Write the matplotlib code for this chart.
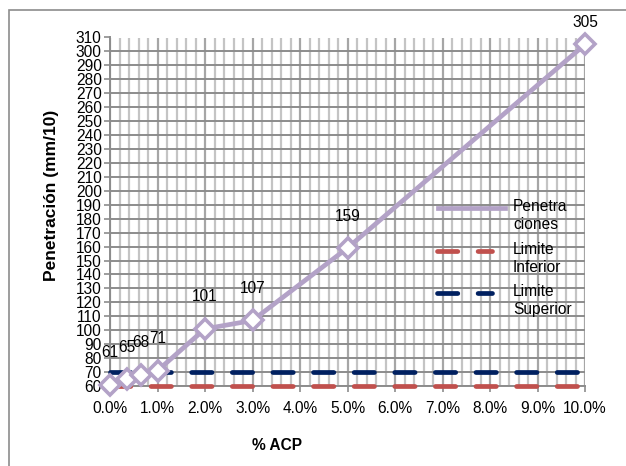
import numpy as np
import matplotlib.pyplot as plt
from matplotlib.lines import Line2D
from matplotlib.patches import Rectangle
from matplotlib.ticker import MultipleLocator, FuncFormatter

plt.rcParams['font.family'] = ['Liberation Sans', 'DejaVu Sans']

# % ACP added vs. measured penetration
acp = [0.0, 0.35, 0.65, 1.0, 2.0, 3.0, 5.0, 10.0]
penetracion = [61, 65, 68, 71, 101, 107, 159, 305]
limite_inferior = 60
limite_superior = 70

W, H = 626, 466
LAVENDER = '#B3A2C7'
RED = '#C0504D'
NAVY = '#002060'
DASH = (4.3, 4.3)
FS = 11.2

fig = plt.figure(figsize=(W / 100, H / 100), dpi=100)
ax = fig.add_axes([110 / W, 1 - 386 / H, 475 / W, 348.5 / H])


def fx(x):
    return x / W


def fy(y):
    return 1 - y / H


# chart area border
fig.add_artist(Rectangle((fx(9), fy(480)), 640 / W, 470 / H, transform=fig.transFigure,
                         fill=False, edgecolor='#8c8c8c', lw=1.2))

ax.set_xlim(0, 10)
ax.set_ylim(60, 310)
ax.xaxis.set_major_locator(MultipleLocator(1))
ax.xaxis.set_minor_locator(MultipleLocator(0.2))
ax.yaxis.set_major_locator(MultipleLocator(10))
ax.xaxis.set_major_formatter(FuncFormatter(lambda v, p: '{:.1f}%'.format(v)))

ax.grid(which='minor', axis='x', color='#c4c4c4', lw=1.6)
ax.grid(which='major', axis='x', color='#a6a6a6', lw=1.6)
ax.grid(which='major', axis='y', color='#8c8c8c', lw=1.4)
ax.set_axisbelow(True)
for s in ['top', 'right']:
    ax.spines[s].set_visible(False)
for s in ['left', 'bottom']:
    ax.spines[s].set_color('#8c8c8c')
    ax.spines[s].set_linewidth(1.4)
ax.tick_params(axis='both', which='major', labelsize=FS, color='#8c8c8c',
               length=4, width=1.2, pad=2)
ax.tick_params(axis='x', which='minor', length=0)
ax.tick_params(axis='x', which='major', pad=7)

ax.plot([0, 10], [limite_inferior] * 2, color=RED, lw=3.4,
        dashes=DASH, dash_capstyle='round', clip_on=False, zorder=3)
ax.plot([0, 10], [limite_superior] * 2, color=NAVY, lw=3.4,
        dashes=DASH, dash_capstyle='round', clip_on=False, zorder=3)
ax.plot(acp, penetracion, color=LAVENDER, lw=3.4, marker='D', markersize=10,
        markerfacecolor='white', markeredgecolor=LAVENDER, markeredgewidth=2.6,
        clip_on=False, zorder=4)

for i, (x, y) in enumerate(zip(acp, penetracion)):
    off = 16 if i == len(acp) - 1 else 23
    ax.annotate(str(y), (x, y), xytext=(0, off), textcoords='offset points',
                ha='center', va='center', fontsize=FS)

fig.text(fx(52), fy(195), 'Penetración (mm/10)', rotation=90, fontsize=12.5,
         fontweight='bold', ha='center', va='center')
fig.text(fx(277), fy(446), '% ACP', fontsize=11.2, fontweight='bold',
         ha='center', va='center')

# legend drawn by hand so the sample lines sit on the first text line
legend_rows = [('Penetra\nciones', LAVENDER, None, 208),
               ('Limite\nInferior', RED, DASH, 251),
               ('Limite\nSuperior', NAVY, DASH, 293)]
for label, color, dashes, y in legend_rows:
    if dashes is None:
        ln = Line2D([fx(438), fx(505)], [fy(y)] * 2, color=color, lw=3.4,
                    transform=fig.transFigure)
    else:
        ln = Line2D([fx(437), fx(492)], [fy(y)] * 2, color=color, lw=3.4,
                    dashes=dashes, dash_capstyle='round', transform=fig.transFigure)
    fig.add_artist(ln)
    fig.text(fx(513), fy(y - 9), label, fontsize=FS, ha='left', va='top',
             linespacing=1.25)

fig.savefig('out.png', dpi=100)
